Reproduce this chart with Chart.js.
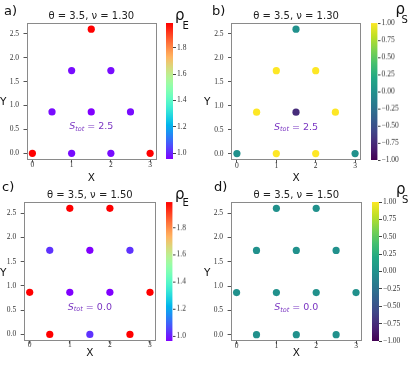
<!DOCTYPE html>
<html>
<head>
<meta charset="utf-8">
<script src="https://cdn.jsdelivr.net/npm/chart.js@4.4.1/dist/chart.umd.min.js"></script>
<style>
  body { margin: 0; background: #fff; width: 415px; height: 365px; position: relative; overflow: hidden; font-family: "DejaVu Sans", sans-serif; }
  canvas { position: absolute; }
  .lab { position: absolute; color: #111; white-space: nowrap; line-height: 1; }
</style>
</head>
<body>
<canvas id="pa"></canvas><canvas id="ca"></canvas>
<canvas id="pb"></canvas><canvas id="cb"></canvas>
<canvas id="pc"></canvas><canvas id="cc"></canvas>
<canvas id="pd"></canvas><canvas id="cd"></canvas>

<div class="lab" style="left:4px;top:3.5px;font-size:13px">a)</div>
<div class="lab" style="left:212px;top:4px;font-size:13px">b)</div>
<div class="lab" style="left:2px;top:180px;font-size:13px">c)</div>
<div class="lab" style="left:214px;top:180px;font-size:13px">d)</div>

<div class="lab" style="left:0px;top:96px;font-size:10.5px">Y</div>
<div class="lab" style="left:204px;top:96px;font-size:10.5px">Y</div>
<div class="lab" style="left:0px;top:266.5px;font-size:10.5px">Y</div>
<div class="lab" style="left:204px;top:266.5px;font-size:10.5px">Y</div>

<div class="lab" style="left:175px;top:7.5px;font-size:15px">ρ</div>
<div class="lab" style="left:182.5px;top:20.5px;font-size:10px">E</div>
<div class="lab" style="left:395.5px;top:1.5px;font-size:15px">ρ</div>
<div class="lab" style="left:401.5px;top:14.5px;font-size:10px">S</div>
<div class="lab" style="left:175px;top:186.5px;font-size:15px">ρ</div>
<div class="lab" style="left:182.5px;top:197.5px;font-size:10px">E</div>
<div class="lab" style="left:396px;top:181.5px;font-size:15px">ρ</div>
<div class="lab" style="left:402px;top:194.5px;font-size:10px">S</div>

<script>
// ---- data ----
var xTicks = [0, 1, 2, 3];
var yTicks = [0, 0.5, 1, 1.5, 2, 2.5];
var rhoETicks = [1.0, 1.2, 1.4, 1.6, 1.8];
var rhoSTicks = [1, 0.75, 0.5, 0.25, 0, -0.25, -0.5, -0.75, -1];
var rhoSRange = [-1, 1];

// nu = 1.30 (panels a, b)
var sitesX130 = [0, 1, 2, 3, 0.5, 1.5, 2.5, 1, 2, 1.5];
var sitesY130 = [0, 0, 0, 0, 0.866, 0.866, 0.866, 1.732, 1.732, 2.598];
var rhoE130 = [1.99, 0.97, 0.97, 1.99, 0.97, 0.955, 0.97, 0.97, 0.97, 1.99];
var rhoS130 = [0, 1, 1, 0, 1, -0.75, 1, 1, 1, 0];

// nu = 1.50 (panels c, d)
var sitesX150 = [0.5, 1.5, 2.5, 0, 1, 2, 3, 0.5, 1.5, 2.5, 1, 2];
var sitesY150 = [0, 0, 0, 0.866, 0.866, 0.866, 0.866, 1.732, 1.732, 1.732, 2.598, 2.598];
var rhoE150 = [1.99, 1.03, 1.99, 1.99, 0.965, 0.965, 1.99, 1.03, 0.965, 1.03, 1.99, 1.99];
var rhoS150 = [0, 0, 0, 0, 0, 0, 0, 0, 0, 0, 0, 0];

var titles = ['θ = 3.5, ν = 1.30', 'θ = 3.5, ν = 1.50'];
var sTotText = ['2.5', '0.0'];
var sTotPos = [1.5, 0.55];

// ---- colormaps ----
function clamp(t) { return Math.max(0, Math.min(1, t)); }
function rainbow(t) {
  t = clamp(t);
  var r = clamp(Math.abs(2 * t - 0.5)), g = clamp(Math.sin(Math.PI * t)), b = clamp(Math.cos(Math.PI * t / 2));
  return 'rgb(' + Math.round(r * 255) + ',' + Math.round(g * 255) + ',' + Math.round(b * 255) + ')';
}
var viridisStops = ['#440154', '#482475', '#414487', '#355f8d', '#2a788e', '#21918c', '#22a884', '#44bf70', '#7ad151', '#bddf26', '#fde725'];
function hex(h) { return [parseInt(h.substr(1, 2), 16), parseInt(h.substr(3, 2), 16), parseInt(h.substr(5, 2), 16)]; }
function viridis(t) {
  t = clamp(t) * 10;
  var i = Math.min(9, Math.floor(t)), f = t - i;
  var a = hex(viridisStops[i]), b = hex(viridisStops[i + 1]);
  return 'rgb(' + [0, 1, 2].map(function (k) { return Math.round(a[k] + (b[k] - a[k]) * f); }).join(',') + ')';
}

var tickFont = { family: '"Liberation Serif", serif', size: 7.5, lineHeight: 1 };

// frame around the plot area (all four spines)
var framePlugin = {
  id: 'frame',
  beforeDatasetsDraw: function (chart) {
    var a = chart.chartArea, c = chart.ctx;
    c.save();
    c.strokeStyle = '#8a8a8a';
    c.lineWidth = 1;
    c.strokeRect(Math.round(a.left) + 0.5, Math.round(a.top) + 0.5, Math.round(a.right - a.left) - 1, Math.round(a.bottom - a.top) - 1);
    c.restore();
  }
};

// S_tot annotation placed in data coordinates
var sTotPlugin = {
  id: 'stot',
  afterDatasetsDraw: function (chart, args, o) {
    var c = chart.ctx;
    var x = chart.scales.x.getPixelForValue(o.x), y = chart.scales.y.getPixelForValue(o.y);
    var parts = [
      { t: 'S', f: 'italic 9.5px "DejaVu Sans"', dy: 0 },
      { t: 'tot', f: 'italic 6.5px "DejaVu Sans"', dy: 2 },
      { t: ' = ' + o.text, f: '9.5px "DejaVu Sans"', dy: 0 }
    ];
    c.save();
    var w = 0;
    parts.forEach(function (p) { c.font = p.f; p.w = c.measureText(p.t).width; w += p.w; });
    var cx = x - w / 2;
    c.fillStyle = o.color;
    c.textBaseline = 'middle';
    parts.forEach(function (p) { c.font = p.f; c.fillText(p.t, cx, y + p.dy); cx += p.w; });
    c.restore();
  }
};

function setupCanvas(id, left, top, w, h) {
  var cv = document.getElementById(id);
  cv.width = w; cv.height = h;
  cv.style.left = left + 'px'; cv.style.top = top + 'px';
  cv.style.width = w + 'px'; cv.style.height = h + 'px';
  return cv;
}

function scatterPanel(p) {
  var cv = setupCanvas(p.id, p.left, p.top, p.w, p.h);
  var pts = p.xs.map(function (x, i) { return { x: x, y: p.ys[i] }; });
  var cols = p.vals.map(function (v) { return p.cmap((v - p.vmin) / (p.vmax - p.vmin)); });
  var titlePadTop = p.titleY - p.top - 6;
  return new Chart(cv, {
    type: 'scatter',
    data: { datasets: [{ data: pts, pointBackgroundColor: cols, pointBorderWidth: 0, pointRadius: 3.6 }] },
    options: {
      responsive: false, animation: false, devicePixelRatio: 1,
      layout: { padding: { left: 0, right: p.left + p.w - p.plotR, top: 0, bottom: p.xTitlePad } },
      plugins: {
        legend: { display: false }, tooltip: { enabled: false },
        title: {
          display: true, text: p.title, fullSize: false, color: '#222',
          font: { family: '"DejaVu Sans"', size: 10, weight: 'normal', lineHeight: 1.2 },
          padding: { top: titlePadTop, bottom: p.plotT - p.top - titlePadTop - 12 }
        },
        stot: { x: sTotPos[0], y: sTotPos[1], text: p.stot, color: '#7a35c2' }
      },
      scales: {
        x: {
          type: 'linear', min: -0.15, max: 3.15,
          afterBuildTicks: function (s) { s.ticks = xTicks.map(function (v) { return { value: v }; }); },
          afterFit: function (s) { s.height = p.top + p.h - p.xTitlePad - p.plotB; },
          grid: { drawOnChartArea: false, drawTicks: true, tickLength: 3, color: '#555' },
          border: { display: false },
          ticks: { font: tickFont, color: '#333', padding: p.xTickPad, maxRotation: 0, callback: function (v) { return String(v); } },
          title: { display: true, text: 'X', color: '#111', font: { family: '"DejaVu Sans"', size: 10.5, lineHeight: 1.2 }, padding: 0 }
        },
        y: {
          type: 'linear', min: -0.13, max: 2.728,
          afterBuildTicks: function (s) { s.ticks = yTicks.map(function (v) { return { value: v }; }); },
          afterFit: function (s) { s.width = p.plotL - p.left; },
          grid: { drawOnChartArea: false, drawTicks: true, tickLength: 3, color: '#555' },
          border: { display: false },
          ticks: { font: tickFont, color: '#333', padding: 4.5, callback: function (v) { return v.toFixed(1); } }
        }
      }
    },
    plugins: [framePlugin, sTotPlugin]
  });
}

function colorbar(c) {
  var pad = 6;
  var w = c.w, barW = c.right - c.left;
  var cv = setupCanvas(c.id, c.left, c.top - pad, w, c.bottom - c.top + 2 * pad);
  return new Chart(cv, {
    type: 'bar',
    data: {
      labels: [''],
      datasets: [{
        data: [[c.vmin, c.vmax]],
        barPercentage: 1, categoryPercentage: 1, borderWidth: 0, borderSkipped: false,
        backgroundColor: function (ctx) {
          var a = ctx.chart.chartArea;
          if (!a) return 'rgba(0,0,0,0)';
          var g = ctx.chart.ctx.createLinearGradient(0, a.bottom, 0, a.top);
          for (var i = 0; i <= 40; i++) g.addColorStop(i / 40, c.cmap(i / 40));
          return g;
        }
      }]
    },
    options: {
      responsive: false, animation: false, devicePixelRatio: 1,
      layout: { padding: { left: 0, right: 0, top: pad, bottom: pad } },
      plugins: { legend: { display: false }, tooltip: { enabled: false } },
      scales: {
        x: { display: false },
        y: {
          position: 'right', min: c.vmin, max: c.vmax,
          afterBuildTicks: function (s) { s.ticks = c.ticks.map(function (v) { return { value: v }; }); },
          afterFit: function (s) { s.width = w - barW; },
          grid: { drawOnChartArea: false, drawTicks: true, tickLength: 3, color: '#444' },
          border: { display: false },
          ticks: { font: tickFont, color: '#333', padding: 1, callback: c.fmt }
        }
      }
    }
  });
}

function fmt1(v) { return v.toFixed(1); }
function fmt2(v) { return v.toFixed(2).replace('-', '\u2212'); }
function minOf(a) { return Math.min.apply(null, a); }
function maxOf(a) { return Math.max.apply(null, a); }

var topRow = { top: 0, h: 185, plotT: 23, titleY: 16, xTickPad: -0.8, xTitlePad: 0.2 };
var botRow = { top: 179, h: 181, plotT: 202, titleY: 195.5, xTickPad: -2, xTitlePad: 0.7 };

function merge(a, b) { var o = {}; for (var k in a) o[k] = a[k]; for (var k2 in b) o[k2] = b[k2]; return o; }

window.onload = function () {
  scatterPanel(merge(topRow, { id: 'pa', left: 0, w: 160, plotL: 26.5, plotR: 158, plotB: 159.5,
    xs: sitesX130, ys: sitesY130, vals: rhoE130, cmap: rainbow, vmin: minOf(rhoE130), vmax: maxOf(rhoE130), title: titles[0], stot: sTotText[0] }));
  scatterPanel(merge(topRow, { id: 'pb', left: 205, w: 160, plotL: 231, plotR: 362, plotB: 159.8,
    xs: sitesX130, ys: sitesY130, vals: rhoS130, cmap: viridis, vmin: rhoSRange[0], vmax: rhoSRange[1], title: titles[0], stot: sTotText[0] }));
  scatterPanel(merge(botRow, { id: 'pc', left: 0, w: 160, plotL: 23.7, plotR: 157.5, plotB: 340.7,
    xs: sitesX150, ys: sitesY150, vals: rhoE150, cmap: rainbow, vmin: minOf(rhoE150), vmax: maxOf(rhoE150), title: titles[1], stot: sTotText[1] }));
  scatterPanel(merge(botRow, { id: 'pd', left: 205, w: 161, plotL: 230.6, plotR: 364, plotB: 341,
    xs: sitesX150, ys: sitesY150, vals: rhoS150, cmap: viridis, vmin: rhoSRange[0], vmax: rhoSRange[1], title: titles[1], stot: sTotText[1] }));

  colorbar({ id: 'ca', left: 166, right: 173, top: 23.3, bottom: 159.5, w: 40, cmap: rainbow,
    vmin: minOf(rhoE130), vmax: maxOf(rhoE130), ticks: rhoETicks, fmt: fmt1 });
  colorbar({ id: 'cb', left: 371, right: 377.5, top: 23.3, bottom: 160, w: 44, cmap: viridis,
    vmin: rhoSRange[0], vmax: rhoSRange[1], ticks: rhoSTicks, fmt: fmt2 });
  colorbar({ id: 'cc', left: 166, right: 172.5, top: 202, bottom: 340.7, w: 40, cmap: rainbow,
    vmin: minOf(rhoE150), vmax: maxOf(rhoE150), ticks: rhoETicks, fmt: fmt1 });
  colorbar({ id: 'cd', left: 372, right: 379, top: 202, bottom: 341, w: 43, cmap: viridis,
    vmin: rhoSRange[0], vmax: rhoSRange[1], ticks: rhoSTicks, fmt: fmt2 });
};
</script>
</body>
</html>
